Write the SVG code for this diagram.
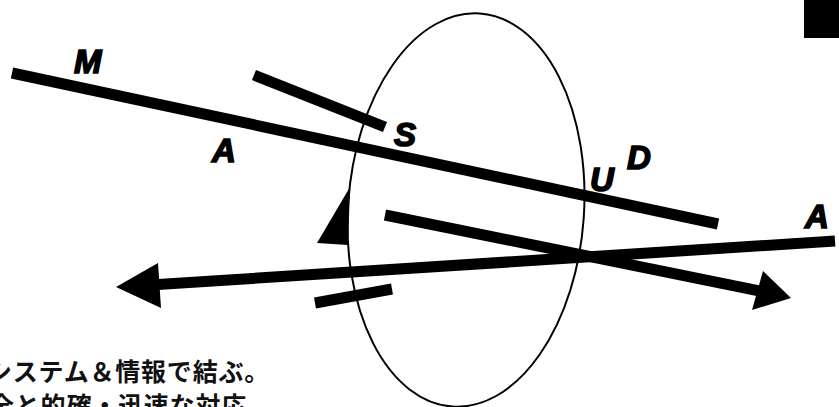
<svg xmlns="http://www.w3.org/2000/svg" width="839" height="407" viewBox="0 0 839 407">
<style>
.bar{stroke:#000;stroke-width:11;fill:none;stroke-linecap:butt}
.lbl{font-family:"Liberation Sans",Arial,sans-serif;font-weight:bold;font-style:italic;font-size:33px;fill:#000;stroke:#000;stroke-width:1.6}
.jp{font-family:"Noto Sans CJK JP","Noto Sans",sans-serif;font-weight:bold;font-size:25px;letter-spacing:0.8px;fill:#111}
</style>
<rect width="839" height="407" fill="#fff"/>
<g id="ring">
<ellipse cx="466" cy="210" rx="118" ry="197" transform="rotate(4 466 210)" fill="none" stroke="#000" stroke-width="2"/>
<polygon points="350,187 317,243 348,245" fill="#000"/>
</g>
<g id="connectors">
<line class="bar" x1="12" y1="73" x2="718" y2="224"/>
<line class="bar" x1="254" y1="75" x2="385" y2="127"/>
<line class="bar" x1="835" y1="241" x2="150" y2="285" stroke-width="12"/>
<polygon points="116,287 158,263 161,308" fill="#000"/>
<line class="bar" x1="385" y1="215" x2="765" y2="292" stroke-width="12"/>
<polygon points="791,298 763,271 752,310" fill="#000"/>
<line class="bar" x1="315" y1="303" x2="392" y2="289" stroke-width="12"/>
<rect x="804" y="0" width="35" height="38" fill="#000"/>
</g>
<g id="labels">
<text class="lbl" x="74" y="73">M</text>
<text class="lbl" x="212" y="162">A</text>
<text class="lbl" x="394" y="146">S</text>
<text class="lbl" x="590" y="191">U</text>
<text class="lbl" x="627" y="169">D</text>
<text class="lbl" x="805" y="228">A</text>
</g>
<g id="caption">
<text class="jp" x="-13" y="381">システム＆情報で結ぶ。</text>
<text class="jp" x="-11" y="415">全と的確・迅速な対応。</text>
</g>
</svg>
